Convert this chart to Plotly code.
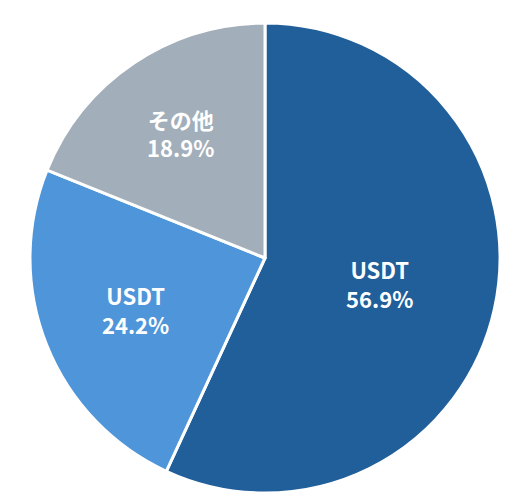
import plotly.graph_objects as go

slice_ids = ["a", "b", "c"]
label_text = ["USDT", "USDT", "その他"]
shares = [56.9, 24.2, 18.9]
colours = ["#215f9b", "#4f95d9", "#a2aeb9"]

fig = go.Figure(go.Pie(
    labels=slice_ids,
    values=shares,
    customdata=label_text,
    texttemplate="<b>%{customdata}<br>%{value:.1f}%</b>",
    textinfo="text",
    textposition="inside",
    insidetextorientation="horizontal",
    sort=False,
    direction="clockwise",
    rotation=0,
    marker=dict(colors=colours, line=dict(color="white", width=3)),
    textfont=dict(color="white", size=22, family="Noto Sans CJK JP"),
    hoverinfo="skip",
))

fig.update_layout(
    width=516, height=500,
    margin=dict(l=20, r=22, t=15, b=15),
    showlegend=False,
    paper_bgcolor="white",
)

fig.write_html("out.html")
